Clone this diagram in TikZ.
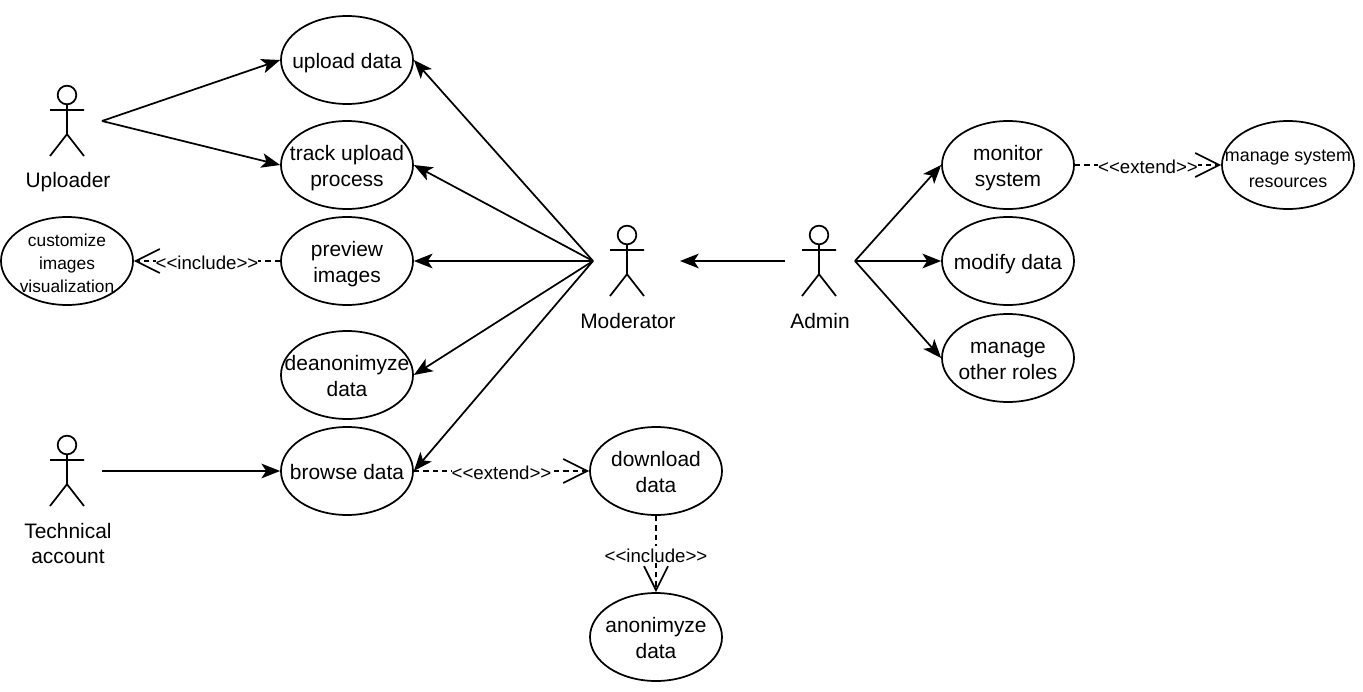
\documentclass[tikz,border=0pt]{standalone}
\usepackage{fontspec}
\setmainfont{Liberation Sans}
\usetikzlibrary{arrows.meta, shapes.geometric}

\newcommand{\lift}[1]{\rule{0pt}{#1}}

\begin{document}
\begin{tikzpicture}[x=0.75pt, y=-0.75pt, line width=1.3pt,
    usecase/.style={draw, ellipse, minimum width=99pt, minimum height=66pt, inner xsep=-13pt, inner ysep=0pt,
      align=center, text depth=0pt, execute at begin node={\lift{13pt}}, font=\fontsize{15.7}{19.5}\selectfont},
    smallcase/.style={usecase, font=\fontsize{13}{17}\selectfont},
    actorname/.style={align=center, inner sep=0pt, text depth=0pt, font=\fontsize{15.7}{18.75}\selectfont},
    assoc/.style={-{Stealth[length=14pt, width=11pt, inset=3.5pt]}},
    dep/.style={dash pattern=on 4pt off 3pt, -{Straight Barb[length=18pt, width=18pt, line width=1.3pt]}},
    deplabel/.style={midway, fill=white, inner sep=0pt, text depth=0pt, execute at begin node={\lift{12.5pt}},
      font=\fontsize{14}{15}\selectfont}
    ]
    \useasboundingbox (0,0) rectangle (1363,692);

    % left column
    \node[usecase] (upload) at (347,60) {upload data};
    \node[usecase] (track) at (347,165) {\lift{13pt}track upload\\process};
    \node[usecase] (preview) at (347,261) {\lift{13pt}preview\\images};
    \node[usecase] (deanon) at (347,375) {\lift{13pt}deanonimyze\\data};
    \node[usecase] (browse) at (347,471) {browse data};
    \node[smallcase] (customize) at (67,261) {\lift{12.5pt}customize\\images\\visualization};

    % bottom middle
    \node[usecase] (download) at (656,471) {\lift{13pt}download\\data};
    \node[usecase] (anon) at (656,637) {\lift{13pt}anonimyze\\data};

    % right column
    \node[usecase] (monitor) at (1008,165) {\lift{13pt}monitor\\system};
    \node[usecase] (modify) at (1008,261) {modify data};
    \node[usecase] (roles) at (1008,358) {\lift{13pt}manage\\other roles};
    \node[smallcase, font=\fontsize{13.4}{19.5}\selectfont] (resources) at (1288,165) {\lift{14pt}manage system\\resources};

    % actors
    \foreach \p/\x/\y in {uploader/67/95, moderator/627/235, admin/819/235, technical/67/445} {
      \node[draw, circle, minimum size=14pt, inner sep=0pt] (\p) at (\x,\y) {};
      \draw (\p.south) -- ++(0,29) coordinate (\p-hip)
        (\x-17,\y+15) -- (\x+17,\y+15)
        (\x-17,\y+61) -- (\p-hip) -- (\x+17,\y+61);
    }
    \node[actorname] (uploaderlabel) at (68,180) {Uploader};
    \node[actorname] (moderatorlabel) at (628,321) {Moderator};
    \node[actorname] (adminlabel) at (820,321) {Admin};
    \node[actorname] (technicallabel) at (68,543.5) {Technical\\account};

    % free ends of the connectors
    \coordinate (uploaderout) at (102,121);
    \coordinate (technicalout) at (102,471);
    \coordinate (moderatorout) at (593,261);
    \coordinate (moderatorin) at (680,261);
    \coordinate (adminin) at (785,261);
    \coordinate (adminout) at (855,261);

    \draw[assoc] (uploaderout) -- (upload.west);
    \draw[assoc] (uploaderout) -- (track.west);
    \draw[assoc] (technicalout) -- (browse.west);
    \foreach \p in {upload, track, preview, deanon, browse} {
      \draw[assoc] (moderatorout) -- (\p.east);
    }
    \draw[assoc] (adminin) -- (moderatorin);
    \foreach \p in {monitor, modify, roles} {
      \draw[assoc] (adminout) -- (\p.west);
    }

    \draw[dep] (preview.west) -- node[deplabel] (includeone) {{<}{<}include{>}{>}} (customize.east);
    \draw[dep] (browse.east) -- node[deplabel] (extendone) {{<}{<}extend{>}{>}} (download.west);
    \draw[dep] (download.south) -- node[deplabel] (includetwo) {{<}{<}include{>}{>}} (anon.north);
    \draw[dep] (monitor.east) -- node[deplabel] (extendtwo) {{<}{<}extend{>}{>}} (resources.west);
\end{tikzpicture}
\end{document}
